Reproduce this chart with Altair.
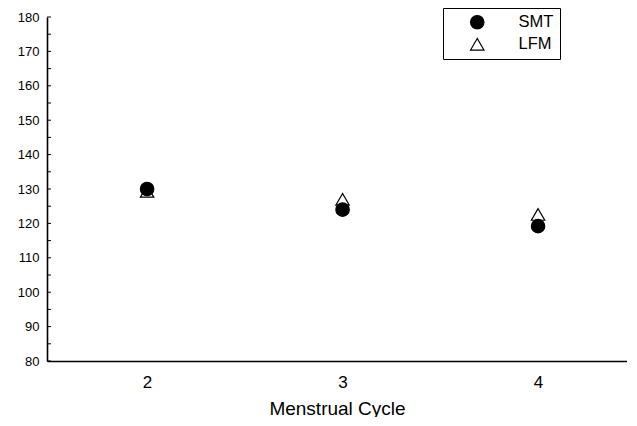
import altair as alt
import pandas as pd

cycles = [2, 3, 4]
smt = [130, 124, 119.2]
lfm = [129.3, 127, 122.6]
y_ticks = list(range(80, 181, 5))
y_labels = list(range(80, 181, 10))

rows = []
for c, v in zip(cycles, lfm):
    rows.append({"cycle": c, "value": v, "group": "LFM"})
for c, v in zip(cycles, smt):
    rows.append({"cycle": c, "value": v, "group": "SMT"})
df = pd.DataFrame(rows)
ticks_df = pd.DataFrame({"t": y_ticks})

FONT = "Liberation Sans"
H = 344

x_scale = alt.Scale(domain=[1.488, 4.455], nice=False, zero=False)
y_scale = alt.Scale(domain=[80, 180], nice=False, zero=False)

def leg():
    return alt.Legend(title=None, orient="none", legendX=396, legendY=-9,
                      strokeColor="black", fillColor="white", padding=6,
                      symbolOffset=20, labelOffset=33, labelFontSize=16.5,
                      symbolSize=180, symbolStrokeColor="black",
                      symbolStrokeWidth=1.2, rowPadding=4, labelFont=FONT)

groups = ["SMT", "LFM"]

y_axis = alt.Axis(values=y_labels, title=None, ticks=False, grid=False,
                  labelFontSize=13, labelPadding=8, labelOverlap=False)

points = alt.Chart(df).mark_point(opacity=1, strokeWidth=1.2, size=180).encode(
    x=alt.X("cycle:Q", scale=x_scale,
            axis=alt.Axis(values=cycles, title="Menstrual Cycle", ticks=False, grid=False,
                          labelFontSize=17, labelPadding=13, titleFontSize=19,
                          titlePadding=9, titleFontWeight="normal", format="d")),
    y=alt.Y("value:Q", scale=y_scale, axis=y_axis),
    shape=alt.Shape("group:N", scale=alt.Scale(domain=groups, range=["circle", "triangle-up"]),
                    legend=leg()),
    fill=alt.Fill("group:N", scale=alt.Scale(domain=groups, range=["black", "white"]),
                  legend=leg()),
    stroke=alt.Stroke("group:N", scale=alt.Scale(domain=groups, range=["black", "black"]),
                      legend=leg()),
    order=alt.Order("group:N", sort="ascending"),
).properties(width=580, height=H)

tick_marks = alt.Chart(ticks_df).mark_rule(color="black", strokeWidth=1).encode(
    y=alt.Y("t:Q", scale=y_scale, axis=y_axis),
    x=alt.value(0),
    x2=alt.value(4),
)

chart = alt.layer(tick_marks, points).properties(
    width=580, height=H,
    autosize=alt.AutoSizeParams(type="none"),
    padding={"left": 39, "top": 9, "right": 0, "bottom": 56},
).configure_view(stroke=None).configure_axis(
    domainColor="black", domainWidth=1.6, labelColor="black", titleColor="black",
    labelFont=FONT, titleFont=FONT,
).configure_axisY(labelAlign="right")

chart.save("out.html", embed_options={"renderer": "svg", "actions": False})
